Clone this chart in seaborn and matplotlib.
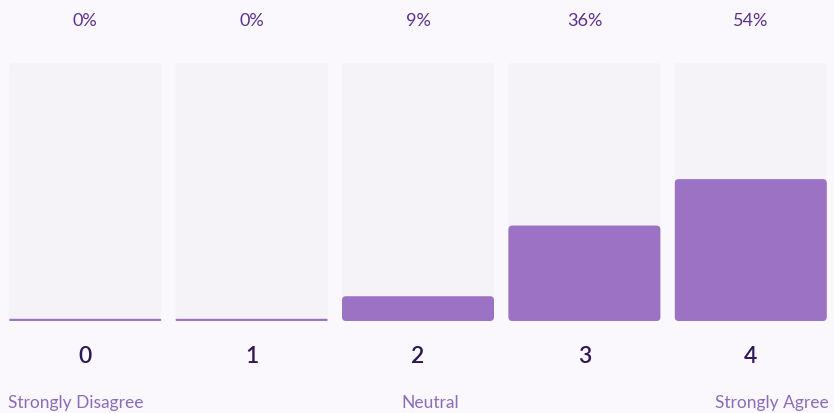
import matplotlib
matplotlib.use("Agg")
import matplotlib.pyplot as plt
import seaborn as sns
import pandas as pd
from matplotlib.patches import FancyBboxPatch

categories = ["0", "1", "2", "3", "4"]
values = [0, 0, 9.6, 37, 55]
pct_labels = ["0%", "0%", "9%", "36%", "54%"]
scale_labels = ["Strongly Disagree", "Neutral", "Strongly Agree"]

BG = "#fbf8fd"
TRACK = "#f5f2f8"
BAR = "#9b72c4"
PCT_C = "#5b2f92"
DIG_C = "#2e1658"
LAB_C = "#8b6cba"

sns.set_theme(style="white")
plt.rcParams["font.family"] = ["Lato", "DejaVu Sans"]

W, H = 834, 413
fig = plt.figure(figsize=(W / 100, H / 100), dpi=100, facecolor=BG)
ax = fig.add_axes([2 / W, (H - 321) / H, 832 / W, 258 / H])
ax.set_facecolor(BG)

df = pd.DataFrame({"cat": categories, "val": values, "full": [100] * len(categories)})
width = 152 / 166.4
sns.barplot(data=df, x="cat", y="full", color=TRACK, width=width, ax=ax,
            saturation=1, linewidth=0)
sns.barplot(data=df, x="cat", y="val", color=BAR, width=width, ax=ax,
            saturation=1, linewidth=0)

ax.set_xlim(-0.5, len(categories) - 0.5)
ax.set_ylim(0, 100)

# convert bars to rounded rectangles
px_x = 832 / len(categories)  # pixels per x unit
px_y = 258 / 100  # pixels per y unit
patches = list(ax.patches)
for i, p in enumerate(patches):
    x0, y0 = p.get_x(), p.get_y()
    w, h = p.get_width(), p.get_height()
    fc = p.get_facecolor()
    p.remove()
    is_value = i >= len(categories)
    r_px = 4 if is_value else 3
    if is_value and h * px_y < 2.2:
        h = 2.2 / px_y
        r_px = 1
    fb = FancyBboxPatch((x0, y0), w, h,
                        boxstyle=f"round,pad=0,rounding_size={r_px / px_x}",
                        mutation_aspect=px_x / px_y,
                        facecolor=fc, edgecolor="none", linewidth=0)
    ax.add_patch(fb)

for s in ax.spines.values():
    s.set_visible(False)
ax.set_xlabel("")
ax.set_ylabel("")
ax.set_yticks([])
ax.set_xticks(range(len(categories)))
ax.set_xticklabels(categories, fontsize=16.5, color=DIG_C, fontweight="semibold")
ax.tick_params(axis="x", length=0, pad=18)

tr = matplotlib.transforms.blended_transform_factory(ax.transData, fig.transFigure)
for i, t in enumerate(pct_labels):
    ax.text(i, 1 - 21 / H, t, transform=tr, ha="center", va="center",
            fontsize=13, color=PCT_C)

fig.text(8 / W, 1 - 403 / H, scale_labels[0], ha="left", va="center", fontsize=12.5, color=LAB_C)
fig.text(430 / W, 1 - 403 / H, scale_labels[1], ha="center", va="center", fontsize=12.5, color=LAB_C)
fig.text(829 / W, 1 - 403 / H, scale_labels[2], ha="right", va="center", fontsize=12.5, color=LAB_C)

fig.savefig("out.png", dpi=100, facecolor=BG)
